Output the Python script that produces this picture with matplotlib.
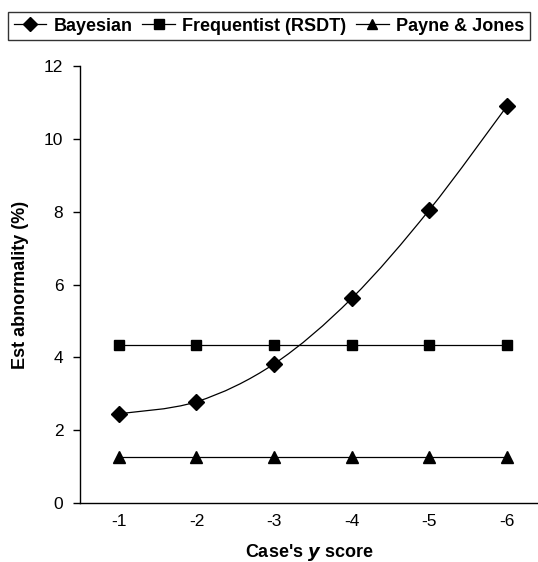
import matplotlib
matplotlib.use('Agg')
import matplotlib.pyplot as plt
from matplotlib.path import Path
from matplotlib.patches import PathPatch
from matplotlib.lines import Line2D

plt.rcParams['font.family'] = ['Liberation Sans', 'DejaVu Sans']

# Data
x_labels = ['-1', '-2', '-3', '-4', '-5', '-6']
bayesian = [2.45, 2.78, 3.82, 5.62, 8.05, 10.9]
frequentist = [4.33, 4.33, 4.33, 4.33, 4.33, 4.33]
payne_jones = [1.25, 1.25, 1.25, 1.25, 1.25, 1.25]

xs = list(range(1, len(x_labels) + 1))

fig = plt.figure(figsize=(5.38, 5.62), dpi=100)
ax = fig.add_axes([0.1487, 0.105, 0.8513, 0.7774])

# Excel style smoothed line (Bezier through the points)
pts = list(zip(xs, bayesian))
verts = [pts[0]]
codes = [Path.MOVETO]
n = len(pts)
for i in range(n - 1):
    p0 = pts[i - 1] if i > 0 else pts[i]
    p1 = pts[i]
    p2 = pts[i + 1]
    p3 = pts[i + 2] if i + 2 < n else pts[i + 1]
    c1 = (p1[0] + (p2[0] - p0[0]) / 6, p1[1] + (p2[1] - p0[1]) / 6)
    c2 = (p2[0] - (p3[0] - p1[0]) / 6, p2[1] - (p3[1] - p1[1]) / 6)
    verts += [c1, c2, p2]
    codes += [Path.CURVE4] * 3
ax.add_patch(PathPatch(Path(verts, codes), fill=False, edgecolor='black', lw=0.9))
ax.plot(xs, bayesian, linestyle='none', marker='D', ms=8, color='black')

ax.plot(xs, frequentist, color='black', lw=0.9, marker='s', ms=7.5)
ax.plot(xs, payne_jones, color='black', lw=0.9, marker='^', ms=8)

ax.set_xlim(0.5, 6.4)
ax.set_ylim(0, 12)
ax.set_yticks(range(0, 13, 2))
ax.set_xticks(xs)
ax.set_xticklabels(x_labels)
ax.tick_params(axis='x', length=0, pad=8, labelsize=12.5)
ax.tick_params(axis='y', length=5, width=1, pad=7, labelsize=12.5, direction='out')
for s in ['top', 'right']:
    ax.spines[s].set_visible(False)
for s in ['left', 'bottom']:
    ax.spines[s].set_linewidth(1)

ax.set_ylabel('Est abnormality (%)', fontsize=13, fontweight='bold', labelpad=11)
ax.set_xlabel("Case's $\\boldsymbol{y}$ score", fontsize=13, fontweight='bold', labelpad=9)

handles = [
    Line2D([], [], color='black', lw=0.9, marker='D', ms=7),
    Line2D([], [], color='black', lw=0.9, marker='s', ms=7),
    Line2D([], [], color='black', lw=0.9, marker='^', ms=7),
]
leg = fig.legend(handles, ['Bayesian', 'Frequentist (RSDT)', 'Payne & Jones'],
                 loc='upper center', bbox_to_anchor=(0.5, 0.988), ncol=3,
                 frameon=True, fancybox=False, edgecolor='black',
                 prop={'weight': 'bold', 'size': 13}, handlelength=1.8,
                 handletextpad=0.4, columnspacing=0.55, borderpad=0.3,
                 borderaxespad=0.3)
leg.get_frame().set_linewidth(1)

plt.savefig('out.png', dpi=100)
